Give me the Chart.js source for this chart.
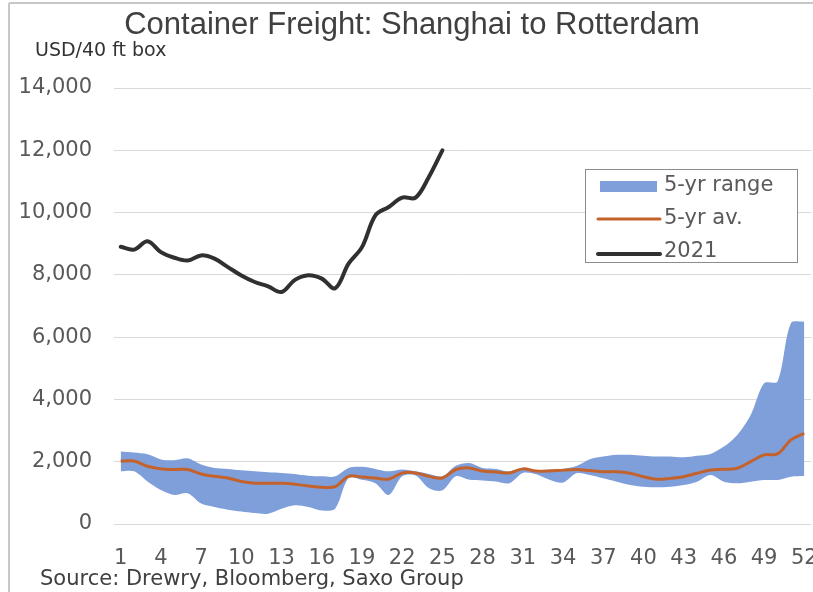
<!DOCTYPE html>
<html>
<head>
<meta charset="utf-8">
<script src="https://cdn.jsdelivr.net/npm/chart.js@4.4.1/dist/chart.umd.min.js"></script>
<style>
  html, body { margin: 0; padding: 0; background: #fff; }
  #wrap { width: 813px; height: 592px; }
</style>
</head>
<body>
<div id="wrap"><canvas id="freight" width="813" height="592"></canvas></div>
<script>
// ---- data ----
const weeks = [1, 2, 3, 4, 5, 6, 7, 8, 9, 10, 11, 12, 13, 14, 15, 16, 17, 18, 19, 20, 21, 22, 23, 24, 25, 26,
  27, 28, 29, 30, 31, 32, 33, 34, 35, 36, 37, 38, 39, 40, 41, 42, 43, 44, 45, 46, 47, 48, 49, 50, 51, 52];

const rangeLow = [1690, 1690, 1365, 1090, 930, 985, 655, 545, 460, 400, 350, 330, 490, 600, 545, 435, 490,
  1475, 1420, 1310, 930, 1530, 1560, 1150, 1080, 1530, 1420, 1400, 1365, 1310, 1640, 1600, 1420, 1330,
  1630, 1575, 1470, 1360, 1255, 1200, 1180, 1200, 1255, 1360, 1575, 1360, 1310, 1360, 1415, 1415, 1520, 1540];

const rangeHigh = [2330, 2295, 2240, 2075, 2050, 2110, 1910, 1800, 1770, 1725, 1690, 1660, 1640, 1605, 1550,
  1530, 1530, 1800, 1835, 1770, 1690, 1750, 1690, 1605, 1530, 1870, 1960, 1800, 1770, 1690, 1800, 1725,
  1750, 1770, 1860, 2080, 2165, 2220, 2220, 2190, 2165, 2165, 2140, 2190, 2250, 2485, 2860, 3500, 4520,
  4575, 6450, 6500];

const avg5yr = [2020, 2020, 1855, 1770, 1750, 1750, 1605, 1530, 1475, 1365, 1310, 1310, 1310, 1280, 1220,
  1180, 1200, 1530, 1510, 1475, 1440, 1640, 1640, 1530, 1475, 1750, 1800, 1700, 1670, 1640, 1770, 1700,
  1700, 1730, 1750, 1715, 1680, 1680, 1630, 1520, 1435, 1465, 1520, 1630, 1735, 1755, 1790, 2000, 2220,
  2250, 2700, 2915];

const y2021 = [8900, 8810, 9080, 8730, 8550, 8460, 8625, 8520, 8250, 7980, 7770, 7630, 7450, 7840, 7990,
  7880, 7570, 8360, 8890, 9910, 10180, 10480, 10480, 11150, 12000];

const yTicks = [0, 2000, 4000, 6000, 8000, 10000, 12000, 14000];

// ---- colours ----
const BAND = '#7f9fdb';
const AVG = '#c4622c';
const LINE21 = '#303030';
const TXT = '#595959';

Chart.defaults.font.family = '"DejaVu Sans", Verdana, sans-serif';

// title, unit, source, frame and boxed legend drawn on the canvas
const decor = {
  id: 'decor',
  beforeDraw(chart) {
    const ctx = chart.ctx;
    ctx.save();
    ctx.fillStyle = '#fff';
    ctx.fillRect(0, 0, chart.width, chart.height);
    // frame
    ctx.strokeStyle = '#c8c8c8';
    ctx.lineWidth = 2;
    ctx.beginPath();
    ctx.moveTo(9, 3); ctx.lineTo(9, chart.height);
    ctx.moveTo(9, 3); ctx.lineTo(chart.width, 3);
    ctx.stroke();
    // title
    ctx.fillStyle = '#404040';
    ctx.textAlign = 'center';
    ctx.textBaseline = 'alphabetic';
    ctx.font = '31px "Liberation Sans", Arial, sans-serif';
    ctx.fillText('Container Freight: Shanghai to Rotterdam', 412, 34);
    // unit
    ctx.textAlign = 'left';
    ctx.fillStyle = '#333';
    ctx.font = '19px "DejaVu Sans", Verdana, sans-serif';
    ctx.fillText('USD/40 ft box', 35, 56);
    // source
    ctx.fillStyle = '#404040';
    ctx.font = '21px "DejaVu Sans", Verdana, sans-serif';
    ctx.fillText('Source: Drewry, Bloomberg, Saxo Group', 40, 585);
    ctx.restore();
  },
  afterDraw(chart) {
    const ctx = chart.ctx;
    const ds = chart.data.datasets;
    ctx.save();
    // legend box
    ctx.fillStyle = '#fff';
    ctx.fillRect(585, 169, 212, 93);
    ctx.strokeStyle = '#8c8c8c';
    ctx.lineWidth = 1;
    ctx.strokeRect(585.5, 169.5, 212, 93);

    ctx.font = '21px "DejaVu Sans", Verdana, sans-serif';
    ctx.textAlign = 'left';
    ctx.textBaseline = 'middle';
    ctx.fillStyle = TXT;

    // 5-yr range
    ctx.fillStyle = BAND;
    ctx.fillRect(600, 181, 57, 11);
    ctx.fillStyle = TXT;
    ctx.fillText(ds[3].label, 664, 186);
    // 5-yr av.
    ctx.lineCap = 'round';
    ctx.strokeStyle = AVG;
    ctx.lineWidth = 3;
    ctx.beginPath(); ctx.moveTo(598, 219); ctx.lineTo(660, 219); ctx.stroke();
    ctx.fillText(ds[1].label, 664, 219);
    // 2021
    ctx.strokeStyle = LINE21;
    ctx.lineWidth = 4;
    ctx.beginPath(); ctx.moveTo(598, 254); ctx.lineTo(660, 254); ctx.stroke();
    ctx.fillText(ds[0].label, 664, 252);
    ctx.restore();
  }
};

new Chart(document.getElementById('freight'), {
  type: 'line',
  data: {
    labels: weeks,
    datasets: [
      {
        label: '2021',
        data: y2021,
        borderColor: LINE21,
        borderWidth: 4,
        pointRadius: 0,
        tension: 0.35,
        borderCapStyle: 'round',
        borderJoinStyle: 'round',
        fill: false
      },
      {
        label: '5-yr av.',
        data: avg5yr,
        borderColor: AVG,
        borderWidth: 3,
        pointRadius: 0,
        tension: 0.35,
        borderJoinStyle: 'round',
        fill: false
      },
      {
        label: 'range low',
        data: rangeLow,
        borderWidth: 0,
        borderColor: 'rgba(0,0,0,0)',
        pointRadius: 0,
        tension: 0.3,
        fill: false
      },
      {
        label: '5-yr range',
        data: rangeHigh,
        borderWidth: 0,
        borderColor: 'rgba(0,0,0,0)',
        backgroundColor: BAND,
        pointRadius: 0,
        tension: 0.3,
        fill: '-1'
      }
    ]
  },
  options: {
    responsive: false,
    animation: false,
    devicePixelRatio: 1,
    layout: { padding: { top: 88, right: 2, left: 0, bottom: 0 } },
    plugins: {
      legend: { display: false },
      tooltip: { enabled: false },
      title: { display: false }
    },
    scales: {
      x: {
        type: 'category',
        offset: true,
        grid: { display: false },
        border: { display: false },
        ticks: {
          autoSkip: false,
          maxRotation: 0,
          padding: 14,
          color: TXT,
          font: { size: 21 },
          callback: (v, i) => (i % 3 === 0 ? String(weeks[i]) : '')
        },
        afterFit: (s) => {
          s.height = 68;
          s.paddingLeft = 0;
          s.paddingRight = 0;
        }
      },
      y: {
        min: 0,
        max: 14000,
        afterBuildTicks: (s) => { s.ticks = yTicks.map(v => ({ value: v })); },
        grid: { color: '#d9d9d9', lineWidth: 1, drawTicks: false },
        border: { display: false },
        ticks: {
          padding: 22,
          color: TXT,
          font: { size: 21 },
          callback: (v) => v.toLocaleString('en-US')
        },
        afterFit: (s) => { s.width = 114; }
      }
    }
  },
  plugins: [decor]
});
</script>
</body>
</html>
